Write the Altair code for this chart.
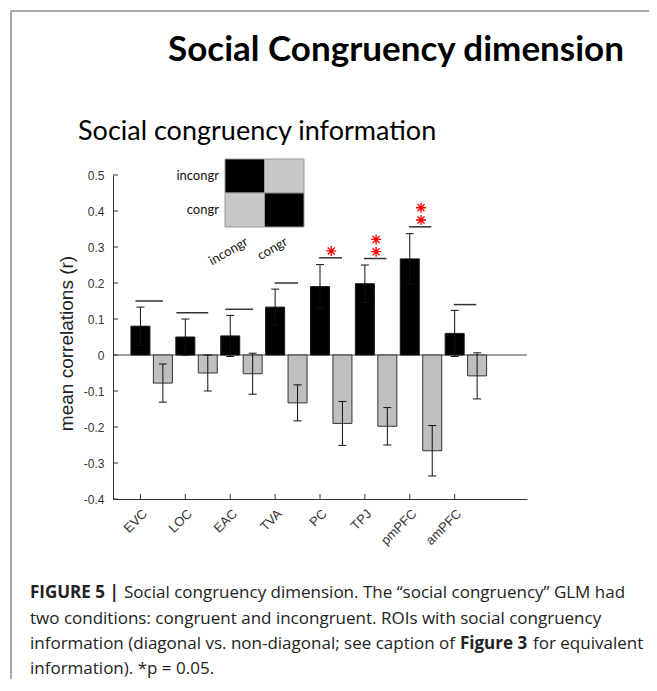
import altair as alt
import pandas as pd

# ---------------- data ----------------
rois = ["EVC", "LOC", "EAC", "TVA", "PC", "TPJ", "pmPFC", "amPFC"]
diag_mean = [0.080, 0.050, 0.053, 0.133, 0.190, 0.198, 0.267, 0.060]
offdiag_mean = [-0.078, -0.050, -0.052, -0.133, -0.190, -0.198, -0.266, -0.058]
sem = [0.053, 0.050, 0.057, 0.050, 0.061, 0.052, 0.070, 0.064]

sig_line_y = [0.150, 0.1175, 0.127, 0.200, 0.270, 0.268, 0.356, 0.140]
sig_line_start = [0.89, 1.80, 2.89, 3.99, 4.98, 5.98, 6.98, 7.98]
sig_line_end = [1.50, 2.51, 3.51, 4.51, 5.49, 6.48, 7.48, 8.48]

star_roi = ["PC", "TPJ", "TPJ", "pmPFC", "pmPFC"]
star_y = [0.289, 0.287, 0.321, 0.375, 0.409]

y_ticks = [-0.4, -0.3, -0.2, -0.1, 0.0, 0.1, 0.2, 0.3, 0.4, 0.5]

matrix_labels = ["incongr", "congr"]
matrix_values = [[1, 0], [0, 1]]

title_text = "Social Congruency dimension"
subtitle_text = "Social congruency information"
y_title = "mean correlations (r)"

caption_segments = [
    # (text, bold, line, x offset from caption left)
    ("FIGURE 5 |", True, 0, 0),
    ("Social congruency dimension. The \u201csocial congruency\u201d GLM had", False, 0, 94),
    ("two conditions: congruent and incongruent. ROIs with social congruency", False, 1, 0),
    ("information (diagonal vs. non-diagonal; see caption of", False, 2, 0),
    ("Figure 3", True, 2, 430),
    ("for equivalent", False, 2, 503),
    ("information). *p = 0.05.", False, 3, 0),
]

# ---------------- tables ----------------
n = len(rois)
pos_diag = [i + 1 for i in range(n)]
pos_off = [i + 1.5 for i in range(n)]

bars = pd.DataFrame({
    "roi": rois * 2,
    "pos": pos_diag + pos_off,
    "mean": diag_mean + offdiag_mean,
    "sem": sem + sem,
    "cond": ["diag"] * n + ["off"] * n,
})
bars["lo"] = bars["mean"] - bars["sem"]
bars["hi"] = bars["mean"] + bars["sem"]

sig = pd.DataFrame({"x0": sig_line_start, "x1": sig_line_end, "y": sig_line_y})
stars = pd.DataFrame({
    "pos": [rois.index(r) + 1.25 for r in star_roi],
    "y": star_y,
})
yt = pd.DataFrame({"y": y_ticks})
xt = pd.DataFrame({"pos": pos_diag})
zero = pd.DataFrame({"y": [0.0]})

cells = pd.DataFrame([
    {"row": matrix_labels[r], "col": matrix_labels[c], "v": matrix_values[r][c]}
    for r in range(2) for c in range(2)
])
row_lab = pd.DataFrame({"row": matrix_labels, "col": [matrix_labels[0]] * 2})
col_lab = pd.DataFrame({"col": matrix_labels, "row": [matrix_labels[1]] * 2})

# ---------------- layout constants ----------------
W, H = 414, 324
AXFONT = "Liberation Sans"
INK = "#222222"

label_js = "[" + ",".join("'%s'" % r for r in rois) + "]"
XS = alt.Scale(domain=[0.5, 9.5], nice=False, zero=False)
YS = alt.Scale(domain=[-0.4, 0.5], nice=False, zero=False)
X_AX = alt.Axis(values=pos_diag, labelExpr=label_js + "[datum.value-1]", title=None,
                ticks=False, tickSize=0, labelAngle=315, labelPadding=8,
                labelFont=AXFONT, labelFontSize=13, labelColor="#333333",
                domainColor="#333333", grid=False, labelOverlap=False, labelFlush=False)
Y_AX = alt.Axis(values=y_ticks, title=y_title, ticks=False, tickSize=0, labelPadding=9,
                labelExpr="datum.value == 0 ? '0' : replace(format(datum.value, '.1f'), '\u2212', '-')",
                labelFont=AXFONT, labelFontSize=12, labelColor="#333333",
                domainColor="#333333", grid=False, labelFlush=False, labelOverlap=False,
                titleFont=AXFONT, titleFontSize=19, titleFontWeight="normal", titleColor=INK,
                titleAngle=270, titleX=-41, titleY=168, titleAlign="center",
                titleBaseline="alphabetic")


def X(field):
    return alt.X(field, scale=XS, axis=X_AX)


def Y(field):
    return alt.Y(field, scale=YS, axis=Y_AX)


base = alt.Chart(bars)

black_bars = base.transform_filter("datum.cond == 'diag'").mark_bar(
    size=19, color="#000000", stroke="#1a1a1a", strokeWidth=1
).encode(x=X("pos:Q"), y=alt.Y("mean:Q", scale=YS, axis=Y_AX, stack=None))

gray_bars = base.transform_filter("datum.cond == 'off'").mark_bar(
    size=19, color="#bfbfbf", stroke="#333333", strokeWidth=1
).encode(x=X("pos:Q"), y=alt.Y("mean:Q", scale=YS, axis=Y_AX, stack=None))

zero_line = alt.Chart(zero).mark_rule(color="#444444", strokeWidth=1).encode(y=Y("y:Q"))

err = base.mark_rule(color="#111111", strokeWidth=1).encode(
    x=X("pos:Q"), y=Y("lo:Q"), y2="hi:Q")
cap_hi = base.mark_point(shape="M-1,0L1,0", size=64, filled=False, color="#111111",
                         strokeWidth=1, opacity=1).encode(x=X("pos:Q"), y=Y("hi:Q"))
cap_lo = base.mark_point(shape="M-1,0L1,0", size=64, filled=False, color="#111111",
                         strokeWidth=1, opacity=1).encode(x=X("pos:Q"), y=Y("lo:Q"))

sig_lines = alt.Chart(sig).mark_rule(color="#333333", strokeWidth=1.5).encode(
    x=X("x0:Q"), x2="x1:Q", y=Y("y:Q"))

asterisk = "M-1,0L1,0M0,-1L0,1M-0.7,-0.7L0.7,0.7M-0.7,0.7L0.7,-0.7"
star_pts = alt.Chart(stars).mark_point(shape=asterisk, size=100, filled=False,
                                        color="#ff0000", strokeWidth=1.3, opacity=1).encode(
    x=X("pos:Q"), y=Y("y:Q"))

ytick_marks = alt.Chart(yt).mark_rule(color="#333333").encode(
    y=Y("y:Q"), x=alt.value(0), x2=alt.value(5))
xtick_marks = alt.Chart(xt).mark_rule(color="#333333").encode(
    x=X("pos:Q"), y=alt.value(H), y2=alt.value(H - 5))

one = pd.DataFrame({"a": [0]})
frame_left = alt.Chart(one).mark_rule(color="#8a8a8a", strokeWidth=1.5).encode(
    x=alt.value(-102), y=alt.value(-164), y2=alt.value(520))
frame_top = alt.Chart(one).mark_rule(color="#8a8a8a", strokeWidth=1.5).encode(
    x=alt.value(-102), x2=alt.value(560), y=alt.value(-164))

title_mark = alt.Chart(one).mark_text(
    text=title_text, font="Lato", fontWeight="bold", fontSize=35, color="#000000",
    align="center", baseline="alphabetic"
).encode(x=alt.value(283), y=alt.value(-114))

subtitle_mark = alt.Chart(one).mark_text(
    text=subtitle_text, font="Lato", fontSize=27, color="#000000",
    align="left", baseline="alphabetic"
).encode(x=alt.value(-35), y=alt.value(-35))

cap_left = -83
cap_base = [423, 449, 474, 499]
caption_marks = []
for txt, bold, line, dx in caption_segments:
    caption_marks.append(
        alt.Chart(one).mark_text(
            text=txt, font="Open Sans", fontSize=17,
            fontWeight="bold" if bold else "normal", color=INK,
            align="left", baseline="alphabetic"
        ).encode(x=alt.value(cap_left + dx), y=alt.value(cap_base[line]))
    )

main = alt.layer(
    frame_left, frame_top, title_mark, subtitle_mark, *caption_marks,
    zero_line, black_bars, gray_bars, err, cap_hi, cap_lo,
    sig_lines, star_pts, ytick_marks, xtick_marks,
)

# ---------------- inset matrix ----------------
IXS = alt.Scale(domain=matrix_labels, range=[112, 191], paddingInner=0, paddingOuter=0)
IYS = alt.Scale(domain=matrix_labels, range=[-16, 52], paddingInner=0, paddingOuter=0)

inset_cells = alt.Chart(cells).mark_rect(stroke="#9a9a9a", strokeWidth=1).encode(
    x=alt.X("col:N", scale=IXS, axis=None, sort=matrix_labels),
    y=alt.Y("row:N", scale=IYS, axis=None, sort=matrix_labels),
    color=alt.Color("v:N", scale=alt.Scale(domain=[0, 1], range=["#c8c8c8", "#000000"]),
                    legend=None),
)
inset_rows = alt.Chart(row_lab).mark_text(
    font="Lato", fontSize=13, color="#111111", align="right", baseline="middle", dx=-6
).encode(
    x=alt.X("col:N", scale=IXS, axis=None, sort=matrix_labels, bandPosition=0),
    y=alt.Y("row:N", scale=IYS, axis=None, sort=matrix_labels, bandPosition=0.5),
    text="row:N",
)
inset_cols = alt.Chart(col_lab).mark_text(
    font="Lato", fontSize=13, color="#111111", align="right", baseline="top",
    angle=330, dx=-5, dy=7
).encode(
    x=alt.X("col:N", scale=IXS, axis=None, sort=matrix_labels, bandPosition=0.5),
    y=alt.Y("row:N", scale=IYS, axis=None, sort=matrix_labels, bandPosition=1),
    text="col:N",
)
inset = alt.layer(inset_cells, inset_rows, inset_cols)

chart = alt.layer(main, inset).resolve_scale(
    x="independent", y="independent", color="independent"
).properties(
    width=W, height=H,
    autosize=alt.AutoSizeParams(type="none"),
    padding={"left": 105, "top": 167, "right": 122, "bottom": 180},
).configure_view(stroke=None)

chart.save("out.html", embed_options={"renderer": "svg", "actions": False})
